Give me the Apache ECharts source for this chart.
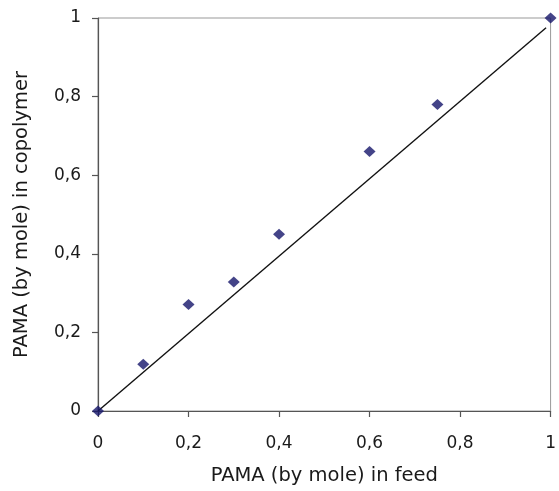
<!DOCTYPE html>
<html><head><meta charset="utf-8">
<script src="https://cdn.jsdelivr.net/npm/echarts@6/dist/echarts.min.js"></script>
<style>html,body{margin:0;padding:0;background:#fff}#c{width:559px;height:491px}</style>
</head><body><div id="c"></div>
<script>
const feed = [0, 0.1, 0.2, 0.3, 0.4, 0.6, 0.75, 1];
const copolymer = [0, 0.119, 0.271, 0.328, 0.45, 0.66, 0.78, 1];
const lineX = [0, 0.99];
const lineY = [0, 0.975];
const tickVals = [0, 0.2, 0.4, 0.6, 0.8, 1];
const xTitle = 'PAMA (by mole) in feed';
const yTitle = 'PAMA (by mole) in copolymer';

const fmt = v => String(Math.round(v*10)/10).replace('.', ',');
const font = 'DejaVu Sans';
const chart = echarts.init(document.getElementById('c'));
const axisCommon = {
  type: 'value', min: 0, max: 1, interval: 0.2,
  axisLine: {show: true, lineStyle: {color: '#555', width: 1.2}},
  axisTick: {show: true, length: 6, lineStyle: {color: '#555', width: 1.2}},
  splitLine: {show: false},
  axisLabel: {formatter: fmt, color: '#1a1a1a', fontSize: 17, fontFamily: font},
  nameTextStyle: {color: '#1a1a1a', fontSize: 19.5, fontFamily: font}
};
chart.setOption({
  animation: false,
  grid: {left: 98, right: 1, top: 18, bottom: 78, show: true, borderColor: '#999', borderWidth: 1},
  xAxis: Object.assign({}, axisCommon, {
    name: xTitle, nameLocation: 'middle', nameGap: 55,
    axisLabel: Object.assign({}, axisCommon.axisLabel, {margin: 24})
  }),
  yAxis: Object.assign({}, axisCommon, {
    name: yTitle, nameLocation: 'middle', nameGap: 66, nameRotate: 90,
    axisLabel: Object.assign({}, axisCommon.axisLabel, {margin: 17})
  }),
  series: [
    {type: 'line', data: lineX.map((x, i) => [x, lineY[i]]), symbol: 'none',
     lineStyle: {color: '#111', width: 1.4}, z: 2},
    {type: 'scatter', data: feed.map((x, i) => [x, copolymer[i]]), symbol: 'diamond',
     symbolSize: [12, 11], itemStyle: {color: '#15156a'}, z: 3}
  ]
});
</script></body></html>
